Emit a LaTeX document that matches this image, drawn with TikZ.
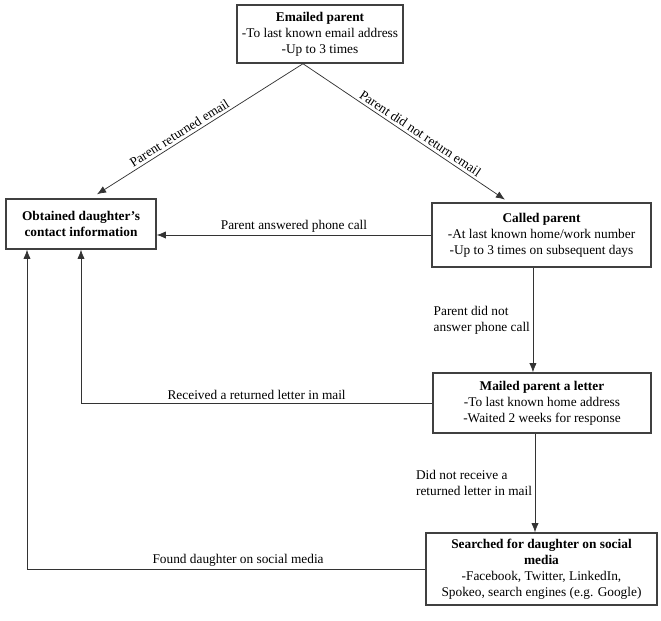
\documentclass[tikz,border=0pt]{standalone}
\usepackage{fontspec}
\setmainfont{Liberation Serif}
\usepackage{xcolor}
\definecolor{cLine}{HTML}{333333}
\definecolor{cBorder}{HTML}{404040}
\usetikzlibrary{positioning,arrows.meta,calc}
\tikzset{
  node-box/.style={draw=cBorder,line width=1.1pt,align=center,inner sep=2pt,
    font=\fontsize{10}{12}\selectfont},
  edge-label/.style={font=\fontsize{10}{12}\selectfont,inner sep=2pt},
  arrow/.style={-{Latex[length=2.4mm,width=1.9mm]},draw=cLine,line width=0.55pt},
}

\begin{document}
\begin{tikzpicture}[x=0.75pt,y=-0.75pt]
  \useasboundingbox (0,0) rectangle (661,621);
  % boxes
  \node[node-box,minimum width=124.5pt,minimum height=43.5pt] (email) at (320,34)
    {\textbf{Emailed parent}\\-To last known email address\\-Up to 3 times};
  \node[node-box,minimum width=112.5pt,minimum height=37.5pt] (obtain) at (81,224)
    {\textbf{Obtained daughter's}\\\textbf{contact information}};
  \node[node-box,minimum width=164.25pt,minimum height=48pt] (call) at (541.5,235)
    {\textbf{Called parent}\\-At last known home/work number\\-Up to 3 times on subsequent days};
  \node[node-box,minimum width=163.5pt,minimum height=45pt] (mail) at (542,403)
    {\textbf{Mailed parent a letter}\\-To last known home address\\-Waited 2 weeks for response};
  \node[node-box,minimum width=173.25pt,minimum height=54pt] (search) at (541.5,569)
    {\textbf{Searched for daughter on social}\\\textbf{media}\\-Facebook, Twitter, LinkedIn,\\Spokeo, search engines (e.g. Google)};
  \coordinate (foot) at ($(obtain.south)+(-54,0)$);
  % connectors
  \draw[arrow] ([xshift=-12.75pt]email.south) -- node[edge-label,sloped,above,pos=0.58]
    {Parent returned email} ([xshift=12pt,yshift=3pt]obtain.north);
  \draw[arrow] ([xshift=-12.75pt]email.south) -- node[edge-label,sloped,above,pos=0.56]
    {Parent did not return email} ([xshift=-27.4pt,yshift=2pt]call.north);
  \draw[arrow] (call.west) -- node[edge-label,above]
    {Parent answered phone call} (call.west -| obtain.east);
  \draw[arrow] ([xshift=-6.4pt]call.south) -- node[edge-label,left,align=left]
    {Parent did not\\answer phone call} ([xshift=-6.4pt]call.south |- mail.north);
  \draw[arrow] (mail.west) -- node[edge-label,above]
    {Received a returned letter in mail} (mail.west -| obtain.south) -- (obtain.south);
  \draw[arrow] ([xshift=-5.25pt]mail.south) -- node[edge-label,left,align=left]
    {Did not receive a\\returned letter in mail} ([xshift=-5.25pt]mail.south |- search.north);
  \draw[arrow] (search.west) -- node[edge-label,above,pos=0.47]
    {Found daughter on social media} (search.west -| foot) -- (foot);
\end{tikzpicture}
\end{document}
